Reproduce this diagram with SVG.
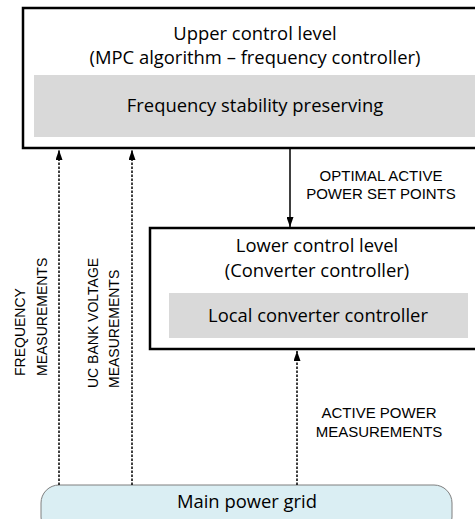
<svg xmlns="http://www.w3.org/2000/svg" width="475" height="519" viewBox="0 0 475 519">
<defs>
<style>
.box{fill:#fff;stroke:#000;stroke-width:2.5}
.inner{fill:#d9d9d9;stroke:none}
.t{font-family:"Open Sans","Noto Sans",sans-serif;font-size:18.4px;fill:#000;text-anchor:middle}
.cap{font-family:"Liberation Sans",Arial,sans-serif;font-size:15px;fill:#000;text-anchor:middle}
.vcap{font-family:"Liberation Sans",Arial,sans-serif;font-size:14px;fill:#000;text-anchor:start}
.solid{stroke:#000;stroke-width:1.5;fill:none}
.dash{stroke:#000;stroke-width:1.5;fill:none;stroke-dasharray:2.5 1.5}
</style>
<marker id="ah" viewBox="0 0 10 8" refX="10" refY="4" markerWidth="10" markerHeight="7" markerUnits="userSpaceOnUse" orient="auto" preserveAspectRatio="none">
<path d="M0,0 L10,4 L0,8 z" fill="#000"/>
</marker>
</defs>
<g id="upper">
<rect class="box" x="23" y="8" width="470" height="140"/>
<rect class="inner" x="34" y="75" width="450" height="62"/>
<text class="t" x="255" y="40">Upper control level</text>
<text class="t" x="255" y="64">(MPC algorithm – frequency controller)</text>
<text class="t" x="255" y="112">Frequency stability preserving</text>
</g>
<g id="lower">
<rect class="box" x="150" y="228" width="340" height="121"/>
<rect class="inner" x="169" y="293" width="299" height="45"/>
<text class="t" x="317" y="252">Lower control level</text>
<text class="t" x="317" y="277">(Converter controller)</text>
<text class="t" x="318" y="322">Local converter controller</text>
</g>
<g id="grid">
<rect x="41" y="485" width="411" height="50" rx="18" ry="18" fill="#daeef3" stroke="#7f7f7f" stroke-width="1"/>
<text class="t" x="247" y="508">Main power grid</text>
</g>
<g id="connectors">
<line class="solid" x1="290" y1="149" x2="290" y2="227" marker-end="url(#ah)"/>
<line class="dash" x1="59" y1="485" x2="59" y2="150" marker-end="url(#ah)"/>
<line class="dash" x1="132" y1="485" x2="132" y2="150" marker-end="url(#ah)"/>
<line class="dash" x1="297" y1="485" x2="297" y2="351" marker-end="url(#ah)"/>
</g>
<g id="labels">
<text class="cap" x="381" y="181">OPTIMAL ACTIVE</text>
<text class="cap" x="381" y="199">POWER SET POINTS</text>
<text class="cap" x="379" y="418">ACTIVE POWER</text>
<text class="cap" x="379" y="437">MEASUREMENTS</text>
<text class="vcap" transform="translate(25,376) rotate(-90)">FREQUENCY</text>
<text class="vcap" transform="translate(47,376) rotate(-90)">MEASUREMENTS</text>
<text class="vcap" transform="translate(98,388) rotate(-90)">UC BANK VOLTAGE</text>
<text class="vcap" transform="translate(119,388) rotate(-90)">MEASUREMENTS</text>
</g>
</svg>
